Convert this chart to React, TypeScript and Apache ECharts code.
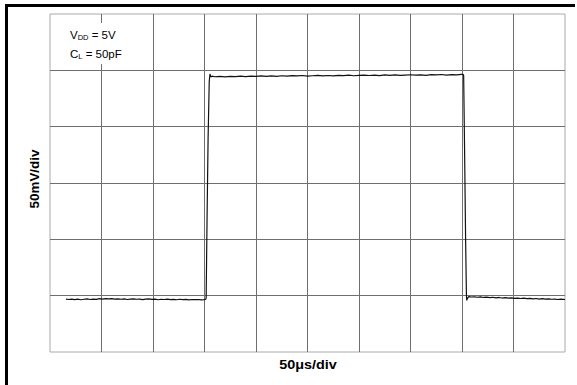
import React, { useEffect, useRef } from "react";
import * as echarts from "echarts";

// Time axis (µs) and voltage axis (mV): 10 x 50µs/div, 6 x 50mV/div
const X_MIN = 0;
const X_MAX = 500;
const X_STEP = 50;
const Y_MIN = 0;
const Y_MAX = 300;
const Y_STEP = 50;

// Low level before the rising edge
const lowTime = [15.5, 18, 21, 24, 27, 30, 33, 36, 39, 42, 45, 48, 51, 54, 57, 60, 63, 66, 69, 72, 75, 78, 81, 84, 87, 90, 93, 96, 99, 102, 105, 108, 111, 114, 117, 120, 123, 126, 129, 132, 135, 138, 141, 144, 147, 150];
const lowMv = [46.9, 46.6, 47.0, 46.5, 46.9, 46.4, 46.8, 47.1, 46.6, 47.0, 46.7, 47.3, 47.0, 47.4, 47.1, 47.3, 46.9, 47.2, 46.8, 47.1, 46.6, 46.9, 47.2, 46.8, 47.0, 46.5, 46.9, 47.1, 46.7, 46.9, 46.4, 46.8, 46.6, 46.9, 46.5, 46.7, 46.4, 46.8, 46.5, 46.7, 46.3, 46.6, 46.4, 46.6, 46.3, 46.5];

// Rising edge with overshoot
const riseTime = [151.2, 151.6, 152.5, 153.5, 154.6, 155.3, 156.2, 157.5];
const riseMv = [46.8, 48.0, 120, 190, 240, 246.8, 244.2, 244.8];

// High level
const highTime = [160, 165, 170, 175, 180, 185, 190, 195, 200, 205, 210, 215, 220, 225, 230, 235, 240, 245, 250, 255, 260, 265, 270, 275, 280, 285, 290, 295, 300, 305, 310, 315, 320, 325, 330, 335, 340, 345, 350, 355, 360, 365, 370, 375, 380, 385, 390, 395, 399.5];
const highMv = [244.3, 244.6, 244.2, 244.7, 244.4, 244.9, 244.5, 244.8, 244.6, 245.1, 244.7, 245.0, 244.6, 245.2, 244.9, 245.3, 245.0, 245.4, 244.9, 245.2, 245.5, 245.1, 245.4, 245.0, 245.6, 245.3, 245.7, 245.2, 245.5, 245.8, 245.4, 245.7, 245.3, 245.9, 245.6, 246.0, 245.5, 245.8, 246.1, 245.7, 246.0, 245.6, 246.2, 245.9, 246.3, 245.8, 246.2, 246.0, 246.4];

// Falling edge with undershoot
const fallTime = [401.0, 401.6, 402.5, 403.5, 404.3, 404.6, 405.3, 406.5];
const fallMv = [246.4, 245.5, 180, 100, 50, 45.8, 47.6, 49.2];

// Low level after the falling edge
const tailTime = [409, 412, 415, 418, 421, 424, 427, 430, 433, 436, 439, 442, 445, 448, 451, 454, 457, 460, 463, 466, 469, 472, 475, 478, 481, 484, 487, 490, 493, 496, 500];
const tailMv = [48.8, 49.0, 48.6, 48.9, 48.4, 48.7, 48.3, 48.6, 48.1, 48.4, 47.9, 48.2, 47.8, 48.0, 47.6, 47.9, 47.5, 47.8, 47.3, 47.6, 47.2, 47.5, 47.0, 47.3, 46.9, 47.2, 46.8, 47.0, 46.6, 46.9, 46.6];

const trace: number[][] = [
  ...lowTime.map((t, i) => [t, lowMv[i]]),
  ...riseTime.map((t, i) => [t, riseMv[i]]),
  ...highTime.map((t, i) => [t, highMv[i]]),
  ...fallTime.map((t, i) => [t, fallMv[i]]),
  ...tailTime.map((t, i) => [t, tailMv[i]]),
];

const FONT = "Arial, 'Liberation Sans', Helvetica, sans-serif";

const noteRich = {
  m: { fontFamily: FONT, fontSize: 11.5, lineHeight: 13, fill: "#000" },
  s: { fontFamily: FONT, fontSize: 7.5, lineHeight: 13, fill: "#000", verticalAlign: "bottom", padding: [3, 0, 0, 0] },
};

export default function App() {
  const ref = useRef<HTMLDivElement>(null);

  useEffect(() => {
    if (!ref.current) return;
    const chart = echarts.init(ref.current, undefined, { renderer: "svg" });
    chart.setOption({
      animation: false,
      backgroundColor: "#ffffff",
      grid: {
        left: 50,
        top: 14,
        width: 515,
        height: 338,
        show: true,
        borderColor: "#aaaaaa",
        borderWidth: 1,
        backgroundColor: "transparent",
      },
      xAxis: {
        type: "value",
        min: X_MIN,
        max: X_MAX,
        interval: X_STEP,
        axisLine: { show: false },
        axisTick: { show: false },
        axisLabel: { show: false },
        splitLine: {
          show: true,
          showMinLine: false,
          showMaxLine: false,
          lineStyle: { color: "#6e6e6e", width: 1 },
        },
      },
      yAxis: {
        type: "value",
        min: Y_MIN,
        max: Y_MAX,
        interval: Y_STEP,
        axisLine: { show: false },
        axisTick: { show: false },
        axisLabel: { show: false },
        splitLine: {
          show: true,
          showMinLine: false,
          showMaxLine: false,
          lineStyle: { color: "#6e6e6e", width: 1 },
        },
      },
      series: [
        {
          type: "line",
          data: trace,
          showSymbol: false,
          symbol: "none",
          lineStyle: { color: "#111111", width: 1.2 },
          z: 5,
        },
      ],
      graphic: [
        // frame: top and left rules
        {
          type: "rect",
          z: 20,
          shape: { x: 5, y: 4, width: 570, height: 3 },
          style: { fill: "#000000" },
        },
        {
          type: "rect",
          z: 20,
          shape: { x: 5, y: 4, width: 3, height: 381 },
          style: { fill: "#000000" },
        },
        // white panel behind the test conditions
        {
          type: "rect",
          z: 20,
          shape: { x: 62, y: 23, width: 70, height: 41 },
          style: { fill: "#ffffff" },
        },
        {
          type: "text",
          z: 21,
          x: 70,
          y: 28,
          style: { text: "{m|V}{s|DD}{m| = 5V}", fill: "#000", rich: noteRich },
        },
        {
          type: "text",
          z: 21,
          x: 70,
          y: 47,
          style: { text: "{m|C}{s|L}{m| = 50pF}", fill: "#000", rich: noteRich },
        },
        {
          type: "text",
          z: 21,
          x: 35,
          y: 179,
          rotation: Math.PI / 2,
          scaleX: 1.12,
          style: {
            text: "50mV/div",
            fontFamily: FONT,
            fontSize: 12,
            fontWeight: "bold",
            fill: "#000",
            align: "center",
            verticalAlign: "middle",
          },
        },
        {
          type: "text",
          z: 21,
          x: 308,
          y: 365,
          scaleX: 1.2,
          style: {
            text: "50μs/div",
            fontFamily: FONT,
            fontSize: 12,
            fontWeight: "bold",
            fill: "#000",
            align: "center",
            verticalAlign: "middle",
          },
        },
      ],
    });
    return () => chart.dispose();
  }, []);

  return (
    <div
      ref={ref}
      style={{ position: "fixed", left: 0, top: 0, width: 577, height: 385, background: "#fff" }}
    />
  );
}
